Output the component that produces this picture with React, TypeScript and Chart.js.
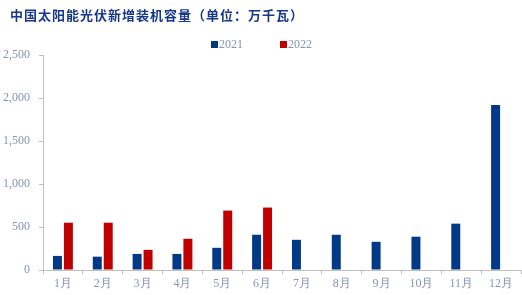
import React, { useEffect, useRef } from "react";
import { Chart, registerables } from "chart.js";

Chart.register(...registerables);

const titleText = "中国太阳能光伏新增装机容量（单位：万千瓦）";
const categories = ["1月", "2月", "3月", "4月", "5月", "6月", "7月", "8月", "9月", "10月", "11月", "12月"];
const seriesNames = ["2021", "2022"];
const values2021 = [164, 155, 187, 187, 258, 410, 351, 410, 328, 387, 539, 1920];
const values2022 = [550, 550, 234, 363, 691, 726, null, null, null, null, null, null];
const yTicks = [0, 500, 1000, 1500, 2000, 2500];

const BLUE = "#003A86";
const RED = "#C00000";
const TICK_COLOR = "#8496B0";
const AXIS_COLOR = "#BFBFBF";
const SERIF = "'Liberation Serif', 'Times New Roman', serif";

const headerPlugin = {
  id: "header",
  afterDraw(chart: any) {
    const ctx = chart.ctx;
    ctx.save();
    ctx.fillStyle = "#17378C";
    ctx.font = "bold 13px 'Noto Sans CJK SC', sans-serif";
    ctx.textBaseline = "middle";
    ctx.textAlign = "left";
    try {
      (ctx as any).letterSpacing = "1px";
    } catch (e) {}
    ctx.fillText(titleText, 10, 15);
    try {
      (ctx as any).letterSpacing = "0px";
    } catch (e) {}

    // legend
    const positions = [211, 280];
    ctx.font = `12px ${SERIF}`;
    chart.data.datasets.forEach((ds: any, i: number) => {
      const x = positions[i];
      ctx.fillStyle = ds.backgroundColor;
      ctx.fillRect(x, 41, 7, 7);
      ctx.fillStyle = TICK_COLOR;
      ctx.fillText(ds.label, x + 8, 45);
    });
    ctx.restore();
  },
};

export default function App() {
  const ref = useRef<HTMLCanvasElement>(null);
  useEffect(() => {
    if (!ref.current) return;
    const chart = new Chart(ref.current, {
      type: "bar",
      data: {
        labels: categories,
        datasets: [
          { label: seriesNames[0], data: values2021, backgroundColor: BLUE },
          { label: seriesNames[1], data: values2022 as any, backgroundColor: RED },
        ],
      },
      options: {
        responsive: false,
        animation: false,
        layout: { padding: { top: 55, left: 0, right: 1, bottom: 0 } },
        plugins: {
          legend: { display: false },
          title: { display: false },
          tooltip: { enabled: false },
        },
        datasets: {
          bar: { categoryPercentage: 0.55, barPercentage: 0.82 },
        },
        scales: {
          x: {
            grid: {
              display: true,
              drawOnChartArea: false,
              drawTicks: true,
              tickLength: 4,
              color: AXIS_COLOR,
              offset: true,
            },
            border: { display: true, color: AXIS_COLOR, width: 1 },
            ticks: {
              color: TICK_COLOR,
              font: { family: SERIF, size: 12 },
              padding: 3,
              maxRotation: 0,
              autoSkip: false,
            },
            afterFit(scale: any) {
              scale.height = 25;
            },
          },
          y: {
            min: 0,
            max: 2500,
            afterBuildTicks(scale: any) {
              scale.ticks = yTicks.map((v) => ({ value: v }));
            },
            grid: {
              display: true,
              drawOnChartArea: false,
              drawTicks: true,
              tickLength: 4,
              color: AXIS_COLOR,
            },
            border: { display: true, color: AXIS_COLOR, width: 1 },
            ticks: {
              color: TICK_COLOR,
              font: { family: SERIF, size: 12 },
              padding: 9,
              callback: (v: any) => Number(v).toLocaleString("en-US"),
            },
            afterFit(scale: any) {
              scale.width = 43;
            },
          },
        },
      },
      plugins: [headerPlugin],
    });
    return () => chart.destroy();
  }, []);
  return (
    <div style={{ position: "fixed", left: 0, top: 0, width: 522, height: 295, background: "#fff" }}>
      <canvas ref={ref} width={522} height={295} style={{ display: "block" }} />
    </div>
  );
}
